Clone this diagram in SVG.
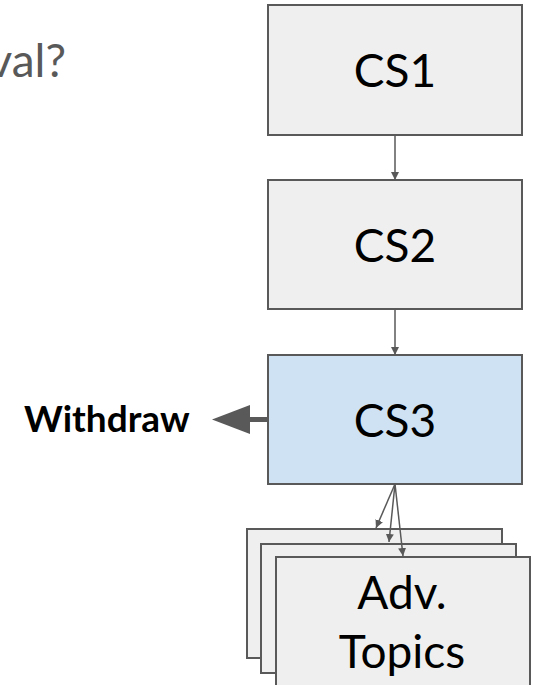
<svg xmlns="http://www.w3.org/2000/svg" width="535" height="685" viewBox="0 0 535 685">
  <defs>
    <marker id="tip" viewBox="0 0 10 10" refX="10" refY="5" markerWidth="8" markerHeight="8" markerUnits="userSpaceOnUse" orient="auto">
      <path d="M0,0 L10,5 L0,10 z" fill="#595959"/>
    </marker>
  </defs>
  <style>
    .box { fill: #efefef; stroke: #595959; stroke-width: 2; }
    .hl { fill: #cfe2f3; }
    .lbl { font-family: Lato, "Liberation Sans", sans-serif; font-size: 46px; fill: #000; text-anchor: middle; }
    .edge { stroke: #595959; stroke-width: 1.5; fill: none; marker-end: url(#tip); }
  </style>
  <rect width="535" height="685" fill="#ffffff"/>

  <text x="66" y="77" font-family="Lato, 'Liberation Sans', sans-serif" font-size="46" fill="#595959" text-anchor="end">val?</text>

  <g id="cs1">
    <rect class="box" x="268" y="5" width="254" height="130"/>
    <text class="lbl" x="395" y="87">CS1</text>
  </g>
  <g id="cs2">
    <rect class="box" x="268" y="180" width="254" height="129"/>
    <text class="lbl" x="395" y="262">CS2</text>
  </g>
  <g id="cs3">
    <rect class="box hl" x="268" y="355" width="254" height="129"/>
    <text class="lbl" x="395" y="437">CS3</text>
  </g>
  <g id="withdraw">
    <text x="24" y="432" font-family="Lato, 'Liberation Sans', sans-serif" font-size="37" font-weight="bold" fill="#000">Withdraw</text>
  </g>
  <g id="adv-topics">
    <rect class="box" x="247" y="529" width="255" height="129"/>
    <rect class="box" x="261" y="544" width="255" height="129"/>
    <rect class="box" x="276" y="557" width="254" height="140"/>
    <text class="lbl" x="402" y="609">Adv.</text>
    <text class="lbl" x="402" y="668">Topics</text>
  </g>

  <g id="connectors">
    <line class="edge" x1="395" y1="135" x2="395" y2="180"/>
    <line class="edge" x1="395" y1="309" x2="395" y2="355"/>
    <line class="edge" x1="395" y1="484" x2="376" y2="528"/>
    <line class="edge" x1="395" y1="484" x2="389" y2="542"/>
    <line class="edge" x1="395" y1="484" x2="403" y2="556"/>
    <line x1="268" y1="419.5" x2="248" y2="419.5" stroke="#595959" stroke-width="5"/>
    <path d="M212,419.5 L250,405 L250,434 z" fill="#595959"/>
  </g>
</svg>
